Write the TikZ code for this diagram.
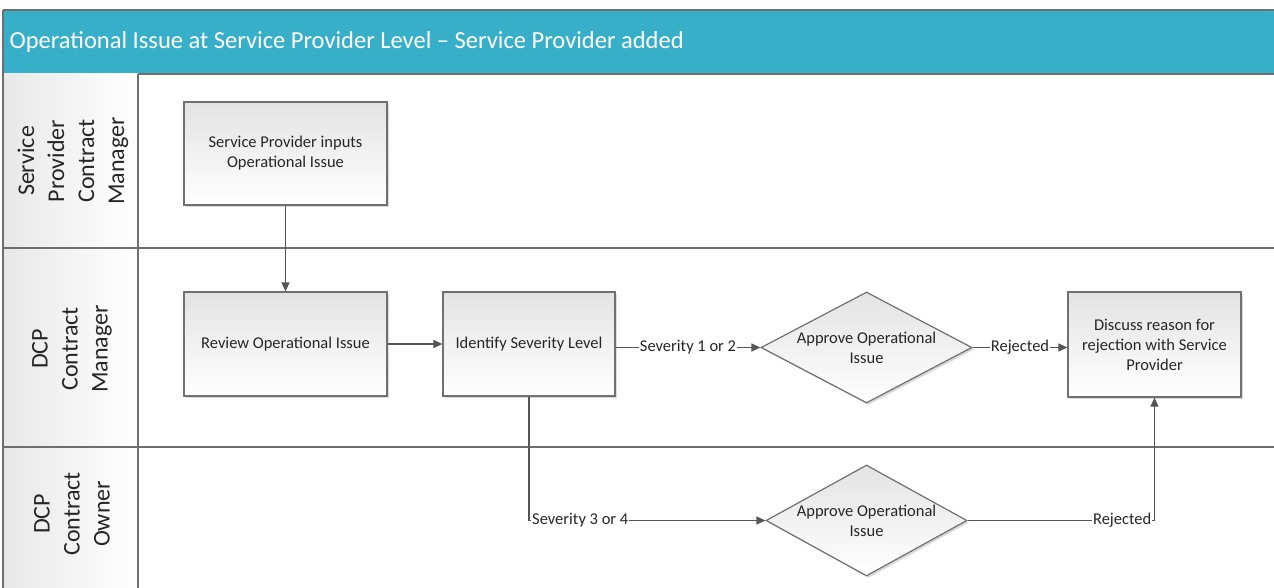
\documentclass[tikz,border=0pt]{standalone}
\usepackage{fontspec}
\setmainfont{Carlito}
\usetikzlibrary{shapes.geometric,arrows.meta,shadows}
\definecolor{titleblue}{HTML}{38AFC8}
\definecolor{lanegray}{HTML}{6E6E6E}
\definecolor{boxline}{HTML}{707070}
\definecolor{conn}{HTML}{555555}
\tikzset{
  lane/.style={draw=lanegray, line width=1.4pt},
  procbox/.style={draw=boxline, line width=1.2pt, top color=black!11, bottom color=white,
    drop shadow={shadow xshift=2pt, shadow yshift=-2pt, opacity=0.25, fill=black!60},
    align=center, inner sep=0pt, font=\fontsize{16.5}{20}\selectfont, text=black!85},
  decision/.style={diamond, draw=boxline, line width=1.2pt, top color=black!11, bottom color=white,
    drop shadow={shadow xshift=2pt, shadow yshift=-2pt, opacity=0.25, fill=black!60},
    align=center, inner sep=0pt, aspect=1.9, font=\fontsize{16.5}{20}\selectfont, text=black!85},
  flow/.style={draw=conn, line width=1.2pt, -{Triangle[length=9pt,width=8pt]}},
  flowlabel/.style={fill=white, inner sep=1pt, font=\fontsize{16.5}{20}\selectfont, text=black!85},
  lanelabel/.style={rotate=90, align=center, font=\fontsize{24}{30}\selectfont, text=black!85}
}
\begin{document}
\begin{tikzpicture}[x=1pt,y=-1pt]
\useasboundingbox (0,0) rectangle (1274,588);
% title bar
\fill[titleblue] (3,10) rectangle (1274,74);
\draw[lane] (3,10) -- (1274,10);
\draw[lane] (3,74) -- (1274,74);
\node[anchor=west, text=white, font=\fontsize{24.5}{30}\selectfont] (title) at (6,42)
  {Operational Issue at Service Provider Level – Service Provider added};
% lane header column
\shade[left color=black!9, right color=white] (3,74) rectangle (138,588);
\draw[lane] (3,10) -- (3,588);
\draw[lane] (138,74) -- (138,588);
\draw[lane] (3,248) -- (1274,248);
\draw[lane] (3,447) -- (1274,447);
\node[lanelabel] (l1) at (73,161) {Service\\Provider\\Contract\\Manager};
\node[lanelabel] (l2) at (72,349) {DCP\\Contract\\Manager};
\node[lanelabel] (l3) at (72,514) {DCP\\Contract\\Owner};
% nodes
\node[procbox, minimum width=203pt, minimum height=103pt] (b1) at (285.5,153.5)
  {Service Provider inputs\\Operational Issue};
\node[procbox, minimum width=203pt, minimum height=104pt] (b2) at (285.5,344)
  {Review Operational Issue};
\node[procbox, minimum width=172pt, minimum height=104pt] (b3) at (529,344)
  {Identify Severity Level};
\node[decision, minimum width=211pt, minimum height=111pt] (d1) at (866.5,347.5)
  {Approve Operational\\Issue};
\node[procbox, minimum width=173pt, minimum height=105pt] (b4) at (1154.5,344.5)
  {Discuss reason for\\rejection with Service\\Provider};
\node[decision, minimum width=201pt, minimum height=111pt] (d2) at (866.5,520.5)
  {Approve Operational\\Issue};
% connectors
\draw[flow] (b1.south) -- (b2.north);
\draw[flow] (b2.east) -- (b3.west);
\draw[flow] (b3.east |- d1.west) -- node[flowlabel] {Severity 1 or 2} (d1.west);
\draw[flow] (d1.east) -- node[flowlabel] {Rejected} (b4.west |- d1.east);
\coordinate (c1) at (b3.south |- d2.west);
\coordinate (c2) at (b4.south |- d2.east);
\draw[flow] (b3.south) -- (c1) -- (d2.west);
\node[flowlabel, anchor=west] (s34) at ([xshift=2pt]c1) {Severity 3 or 4};
\draw[flow] (d2.east) -- (c2) -- (b4.south);
\node[flowlabel, anchor=east] (rej2) at ([xshift=-2pt]c2) {Rejected};
\end{tikzpicture}
\end{document}
